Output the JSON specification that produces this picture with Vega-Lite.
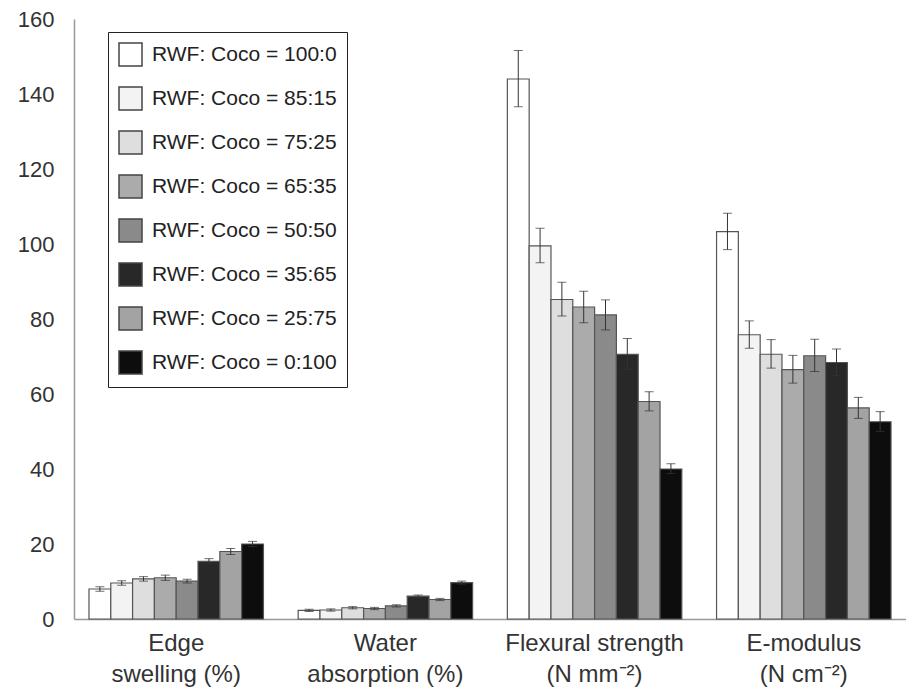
{
  "$schema": "https://vega.github.io/schema/vega-lite/v6.json",
  "width": 832,
  "height": 600,
  "autosize": {"type": "none"},
  "padding": {"left": 74, "top": 19, "right": 0, "bottom": 78},
  "background": "white",
  "config": {
    "view": {"stroke": null},
    "font": "Liberation Sans"
  },
  "data": {
    "values": [
      {"property": "Edge swelling (%)", "ratio": "RWF: Coco = 100:0", "value": 8.0, "lo": 7.4, "hi": 8.6},
      {"property": "Edge swelling (%)", "ratio": "RWF: Coco = 85:15", "value": 9.6, "lo": 9.0, "hi": 10.2},
      {"property": "Edge swelling (%)", "ratio": "RWF: Coco = 75:25", "value": 10.7, "lo": 10.1, "hi": 11.3},
      {"property": "Edge swelling (%)", "ratio": "RWF: Coco = 65:35", "value": 11.0, "lo": 10.3, "hi": 11.7},
      {"property": "Edge swelling (%)", "ratio": "RWF: Coco = 50:50", "value": 10.1, "lo": 9.6, "hi": 10.6},
      {"property": "Edge swelling (%)", "ratio": "RWF: Coco = 35:65", "value": 15.4, "lo": 14.7, "hi": 16.1},
      {"property": "Edge swelling (%)", "ratio": "RWF: Coco = 25:75", "value": 18.0, "lo": 17.2, "hi": 18.8},
      {"property": "Edge swelling (%)", "ratio": "RWF: Coco = 0:100", "value": 20.0, "lo": 19.3, "hi": 20.7},

      {"property": "Water absorption (%)", "ratio": "RWF: Coco = 100:0", "value": 2.3, "lo": 2.0, "hi": 2.6},
      {"property": "Water absorption (%)", "ratio": "RWF: Coco = 85:15", "value": 2.4, "lo": 2.1, "hi": 2.7},
      {"property": "Water absorption (%)", "ratio": "RWF: Coco = 75:25", "value": 3.0, "lo": 2.7, "hi": 3.3},
      {"property": "Water absorption (%)", "ratio": "RWF: Coco = 65:35", "value": 2.8, "lo": 2.5, "hi": 3.1},
      {"property": "Water absorption (%)", "ratio": "RWF: Coco = 50:50", "value": 3.5, "lo": 3.2, "hi": 3.8},
      {"property": "Water absorption (%)", "ratio": "RWF: Coco = 35:65", "value": 6.1, "lo": 5.8, "hi": 6.4},
      {"property": "Water absorption (%)", "ratio": "RWF: Coco = 25:75", "value": 5.2, "lo": 4.9, "hi": 5.5},
      {"property": "Water absorption (%)", "ratio": "RWF: Coco = 0:100", "value": 9.7, "lo": 9.3, "hi": 10.1},

      {"property": "Flexural strength (N mm⁻²)", "ratio": "RWF: Coco = 100:0", "value": 144.0, "lo": 136.6, "hi": 151.6},
      {"property": "Flexural strength (N mm⁻²)", "ratio": "RWF: Coco = 85:15", "value": 99.5, "lo": 95.0, "hi": 104.2},
      {"property": "Flexural strength (N mm⁻²)", "ratio": "RWF: Coco = 75:25", "value": 85.2, "lo": 80.8, "hi": 89.8},
      {"property": "Flexural strength (N mm⁻²)", "ratio": "RWF: Coco = 65:35", "value": 83.2, "lo": 79.0, "hi": 87.4},
      {"property": "Flexural strength (N mm⁻²)", "ratio": "RWF: Coco = 50:50", "value": 81.1, "lo": 77.1, "hi": 85.1},
      {"property": "Flexural strength (N mm⁻²)", "ratio": "RWF: Coco = 35:65", "value": 70.6, "lo": 66.6, "hi": 74.8},
      {"property": "Flexural strength (N mm⁻²)", "ratio": "RWF: Coco = 25:75", "value": 58.0, "lo": 55.5, "hi": 60.6},
      {"property": "Flexural strength (N mm⁻²)", "ratio": "RWF: Coco = 0:100", "value": 40.0, "lo": 38.8, "hi": 41.4},

      {"property": "E-modulus (N cm⁻²)", "ratio": "RWF: Coco = 100:0", "value": 103.3, "lo": 98.5, "hi": 108.2},
      {"property": "E-modulus (N cm⁻²)", "ratio": "RWF: Coco = 85:15", "value": 75.8, "lo": 72.2, "hi": 79.5},
      {"property": "E-modulus (N cm⁻²)", "ratio": "RWF: Coco = 75:25", "value": 70.6, "lo": 66.9, "hi": 74.5},
      {"property": "E-modulus (N cm⁻²)", "ratio": "RWF: Coco = 65:35", "value": 66.5, "lo": 62.9, "hi": 70.3},
      {"property": "E-modulus (N cm⁻²)", "ratio": "RWF: Coco = 50:50", "value": 70.2, "lo": 66.0, "hi": 74.6},
      {"property": "E-modulus (N cm⁻²)", "ratio": "RWF: Coco = 35:65", "value": 68.4, "lo": 64.9, "hi": 72.0},
      {"property": "E-modulus (N cm⁻²)", "ratio": "RWF: Coco = 25:75", "value": 56.3, "lo": 53.5, "hi": 59.1},
      {"property": "E-modulus (N cm⁻²)", "ratio": "RWF: Coco = 0:100", "value": 52.6, "lo": 50.0, "hi": 55.3}
    ]
  },
  "encoding": {
    "x": {
      "field": "property",
      "type": "nominal",
      "sort": null,
      "scale": {"paddingInner": 0.166, "paddingOuter": 0.0716},
      "axis": {
        "title": null,
        "labelAngle": 0,
        "ticks": false,
        "domainColor": "#999999",
        "domainWidth": 1.5,
        "labelFontSize": 24,
        "labelLineHeight": 31,
        "labelColor": "#333333",
        "labelPadding": 12,
        "labelExpr": "datum.label == 'Edge swelling (%)' ? ['Edge', 'swelling (%)'] : datum.label == 'Water absorption (%)' ? ['Water', 'absorption (%)'] : datum.label == 'Flexural strength (N mm⁻²)' ? ['Flexural strength', '(N mm⁻²)'] : ['E-modulus', '(N cm⁻²)']"
      }
    },
    "xOffset": {
      "field": "ratio",
      "type": "nominal",
      "sort": null,
      "scale": {"paddingInner": 0, "paddingOuter": 0}
    }
  },
  "layer": [
    {
      "mark": {"type": "bar", "stroke": "#555555", "strokeWidth": 1.2},
      "encoding": {
        "y": {
          "field": "value",
          "type": "quantitative",
          "title": null,
          "scale": {"domain": [0, 160], "nice": false},
          "axis": {
            "title": null,
            "values": [0, 20, 40, 60, 80, 100, 120, 140, 160],
            "grid": false,
            "ticks": false,
            "domainColor": "#999999",
            "domainWidth": 1.5,
            "labelFontSize": 22,
            "labelColor": "#333333",
            "labelPadding": 20
          }
        },
        "fill": {
          "field": "ratio",
          "type": "nominal",
          "sort": null,
          "scale": {
            "domain": ["RWF: Coco = 100:0", "RWF: Coco = 85:15", "RWF: Coco = 75:25", "RWF: Coco = 65:35", "RWF: Coco = 50:50", "RWF: Coco = 35:65", "RWF: Coco = 25:75", "RWF: Coco = 0:100"],
            "range": ["#ffffff", "#f3f3f3", "#dedede", "#ababab", "#8a8a8a", "#282828", "#a3a3a3", "#0d0d0d"]
          },
          "legend": {
            "title": null,
            "orient": "none",
            "legendX": 34,
            "legendY": 13,
            "symbolType": "square",
            "symbolSize": 529,
            "symbolStrokeColor": "#444444",
            "symbolStrokeWidth": 1.5,
            "labelFontSize": 21,
            "labelColor": "#222222",
            "labelLimit": 300,
            "labelOffset": 9,
            "rowPadding": 15,
            "padding": 10,
            "strokeColor": "#222222",
            "fillColor": "#ffffff"
          }
        }
      }
    },
    {
      "mark": {"type": "rule", "color": "#333333", "strokeWidth": 1},
      "encoding": {
        "y": {"field": "lo", "type": "quantitative", "title": null},
        "y2": {"field": "hi"}
      }
    },
    {
      "mark": {"type": "tick", "color": "#333333", "thickness": 1, "size": 9},
      "encoding": {
        "y": {"field": "lo", "type": "quantitative", "title": null}
      }
    },
    {
      "mark": {"type": "tick", "color": "#333333", "thickness": 1, "size": 9},
      "encoding": {
        "y": {"field": "hi", "type": "quantitative", "title": null}
      }
    }
  ]
}
